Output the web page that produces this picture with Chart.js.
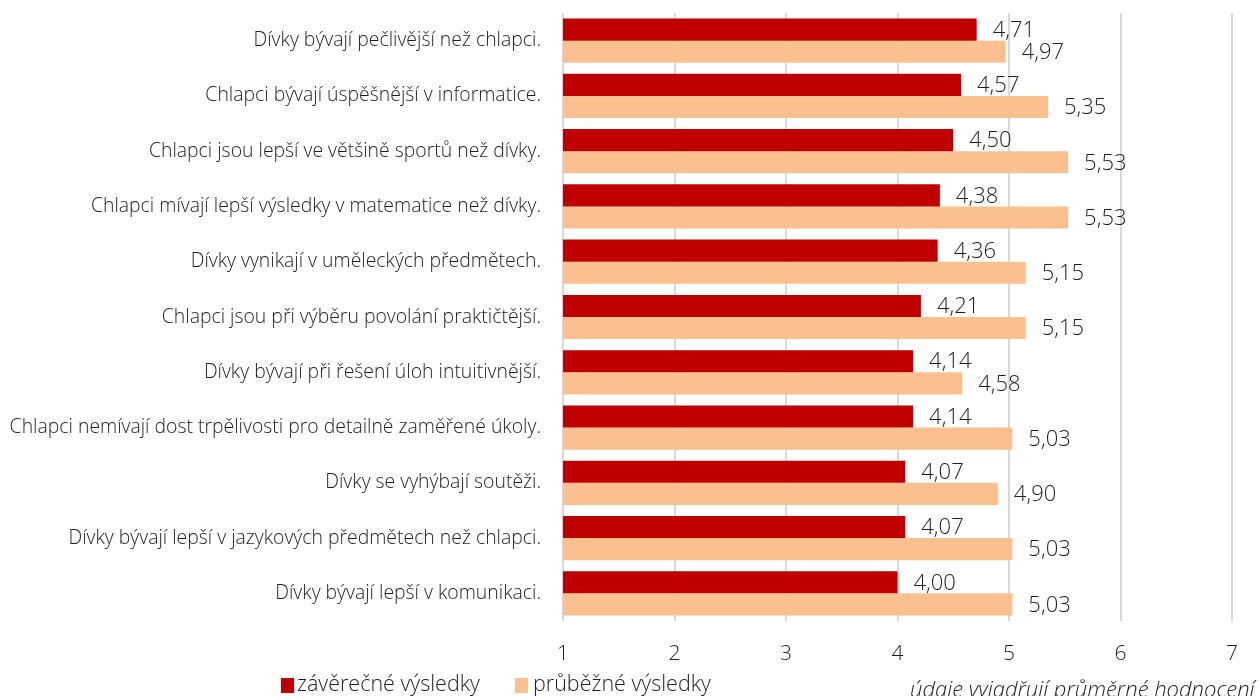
<!DOCTYPE html>
<html>
<head>
<meta charset="utf-8">
<script src="https://cdn.jsdelivr.net/npm/chart.js@4"></script>
<style>
  html, body { margin: 0; padding: 0; background: #fff; }
  #wrap { width: 1259px; height: 696px; position: relative; }
</style>
</head>
<body>
<div id="wrap"><canvas id="chart"></canvas></div>
<script>
var categories = [
  'Dívky bývají pečlivější než chlapci.',
  'Chlapci bývají úspěšnější v informatice.',
  'Chlapci jsou lepší ve většině sportů než dívky.',
  'Chlapci mívají lepší výsledky v matematice než dívky.',
  'Dívky vynikají v uměleckých předmětech.',
  'Chlapci jsou při výběru povolání praktičtější.',
  'Dívky bývají při řešení úloh intuitivnější.',
  'Chlapci nemívají dost trpělivosti pro detailně zaměřené úkoly.',
  'Dívky se vyhýbají soutěži.',
  'Dívky bývají lepší v jazykových předmětech než chlapci.',
  'Dívky bývají lepší v komunikaci.'
];
var finalScores = [4.71, 4.57, 4.50, 4.38, 4.36, 4.21, 4.14, 4.14, 4.07, 4.07, 4.00];
var ongoingScores = [4.97, 5.35, 5.53, 5.53, 5.15, 5.15, 4.58, 5.03, 4.90, 5.03, 5.03];
var seriesNames = ['závěrečné výsledky', 'průběžné výsledky'];
var xMin = 1, xMax = 7;
var note = 'údaje vyjadřují průměrné hodnocení';

var textColor = '#1e1e1e';
var fontFamily = "'Open Sans', 'Noto Sans', sans-serif";
var colors = ['#C00000', '#FAC090'];

function fmt(v) {
  return v.toFixed(2).replace('.', ',');
}

// value labels next to bar ends
var valueLabels = {
  id: 'valueLabels',
  afterDatasetsDraw: function(chart) {
    var ctx = chart.ctx;
    ctx.save();
    ctx.font = '300 22px ' + fontFamily;
    ctx.fillStyle = textColor;
    ctx.textAlign = 'left';
    ctx.textBaseline = 'middle';
    chart.data.datasets.forEach(function(ds, i) {
      var meta = chart.getDatasetMeta(i);
      meta.data.forEach(function(bar, j) {
        ctx.fillText(fmt(ds.data[j]), bar.x + 16, bar.y + 1);
      });
    });
    ctx.restore();
  }
};

// legend + note at the bottom
var bottomLegend = {
  id: 'bottomLegend',
  afterDraw: function(chart) {
    var ctx = chart.ctx;
    var pos = [[281, 297], [515, 533]];
    ctx.save();
    ctx.font = '300 21.5px ' + fontFamily;
    ctx.textBaseline = 'middle';
    ctx.textAlign = 'left';
    chart.data.datasets.forEach(function(ds, i) {
      ctx.fillStyle = ds.backgroundColor;
      ctx.fillRect(pos[i][0], 678, 13, 15);
      ctx.fillStyle = textColor;
      ctx.fillText(ds.label, pos[i][1], 685);
    });
    ctx.font = 'italic 300 22px ' + fontFamily;
    ctx.textBaseline = 'alphabetic';
    ctx.fillText(note, 910, 697);
    ctx.restore();
  }
};

var config = {
  type: 'bar',
  data: {
    labels: categories,
    datasets: [{
      label: seriesNames[0],
      data: finalScores,
      backgroundColor: colors[0],
      categoryPercentage: 0.8,
      barPercentage: 1.0
    }, {
      label: seriesNames[1],
      data: ongoingScores,
      backgroundColor: colors[1],
      categoryPercentage: 0.8,
      barPercentage: 1.0
    }]
  },
  options: {
    indexAxis: 'y',
    responsive: true,
    maintainAspectRatio: false,
    animation: false,
    layout: { padding: { top: 13, right: 27, left: 0, bottom: 0 } },
    scales: {
      x: {
        min: xMin,
        max: xMax,
        ticks: {
          stepSize: 1,
          padding: 20,
          color: textColor,
          font: { family: fontFamily, size: 21, weight: '300' }
        },
        grid: { color: '#D9D9D9', lineWidth: 2, drawTicks: false },
        border: { display: false },
        afterFit: function(scale) { scale.height = 75; }
      },
      y: {
        ticks: {
          padding: 22,
          color: textColor,
          font: { family: fontFamily, size: 19.4, weight: '300' }
        },
        grid: { display: false, drawTicks: false },
        border: { display: false },
        afterFit: function(scale) {
          scale.width = 563;
          scale.paddingTop = 0;
          scale.paddingBottom = 0;
        }
      }
    },
    plugins: {
      legend: { display: false },
      tooltip: { enabled: false }
    }
  },
  plugins: [valueLabels, bottomLegend]
};

var barChart = new Chart(document.getElementById('chart'), config);
</script>
</body>
</html>
